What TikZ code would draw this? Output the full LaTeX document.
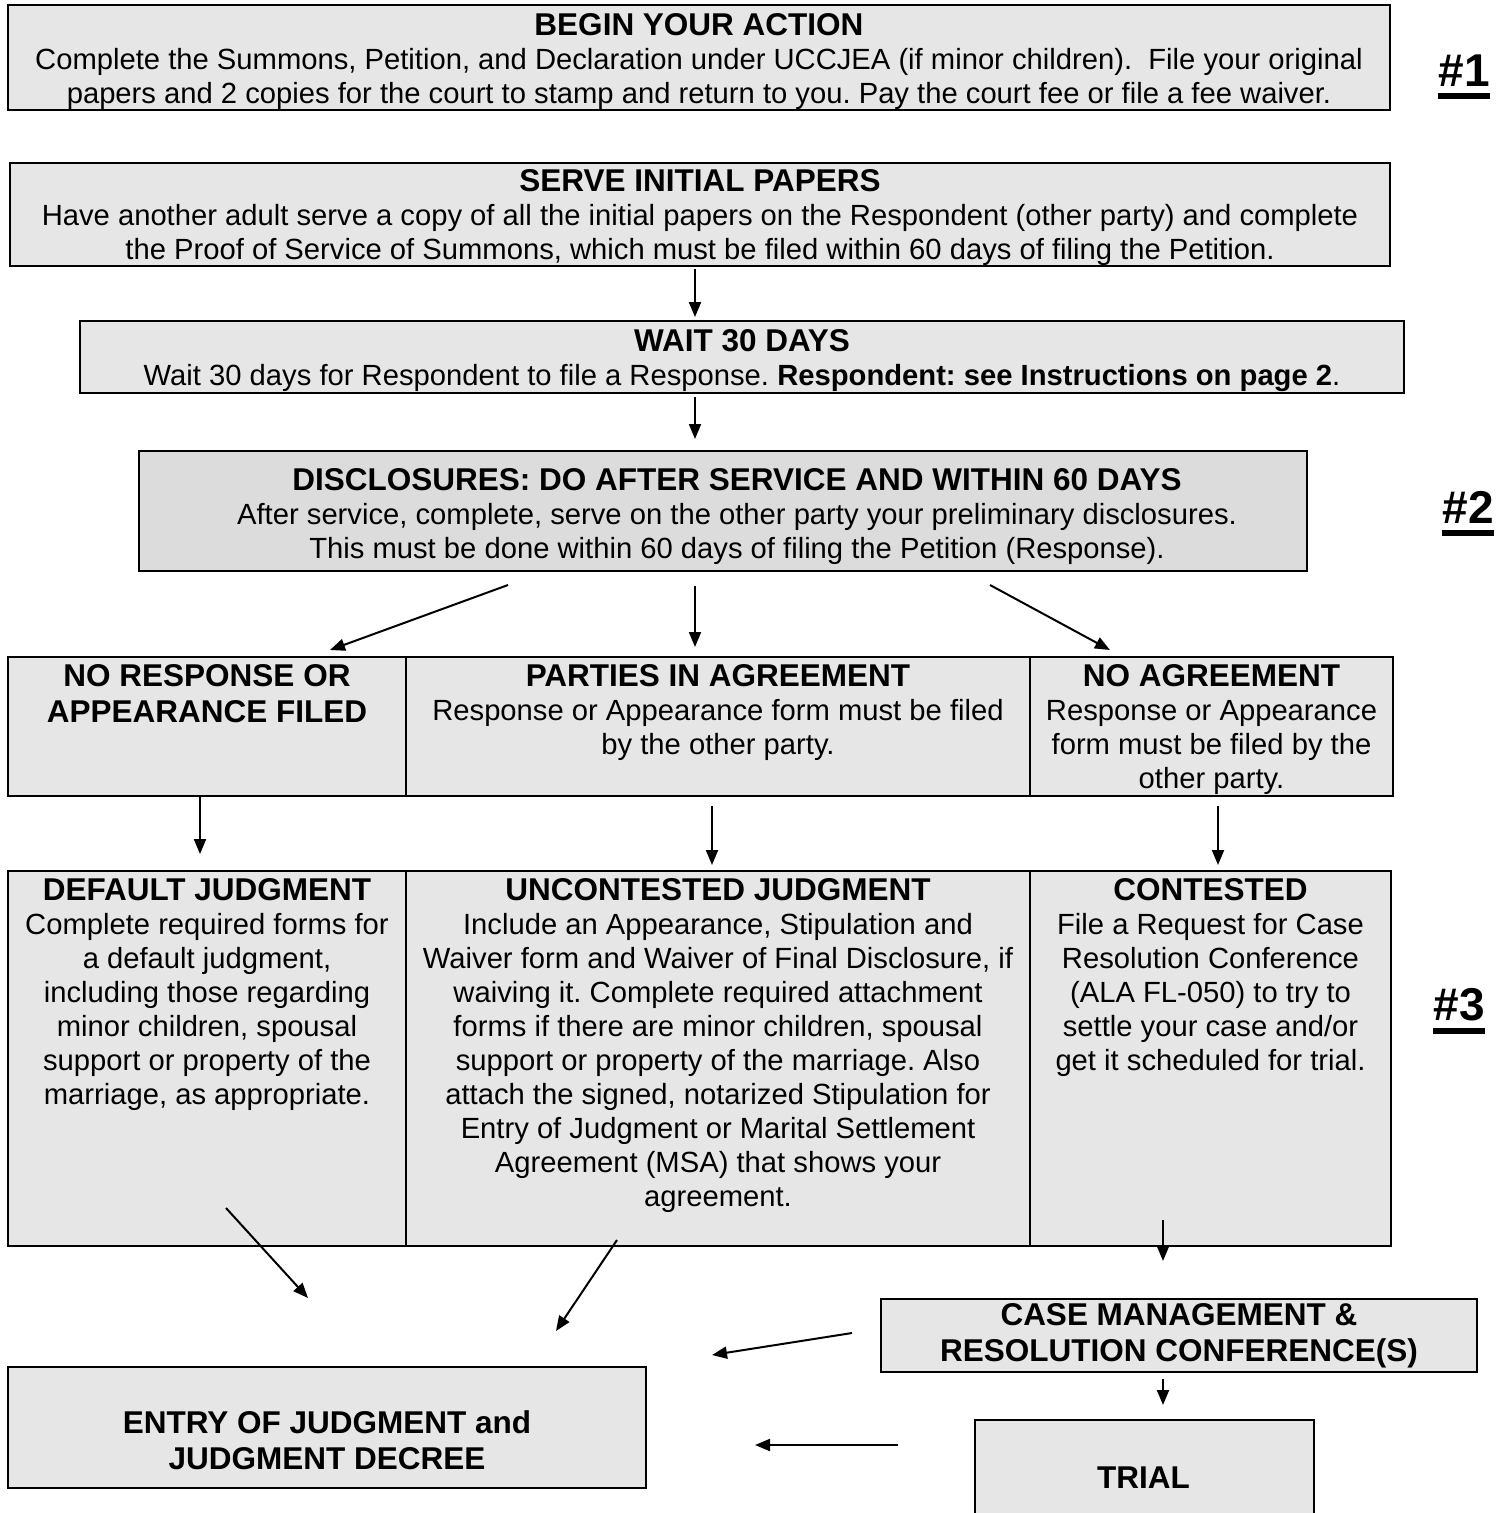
\documentclass[tikz,border=0pt]{standalone}
\usepackage{fontspec}
\setmainfont{Liberation Sans}
\usetikzlibrary{positioning, arrows.meta, calc}
\definecolor{fillGray}{RGB}{230,230,230}
\definecolor{fillDark}{RGB}{220,220,220}
\newcommand{\ttl}[1]{{\fontsize{31.5}{36}\selectfont\bfseries #1}}
\newcommand{\ulnum}[1]{\setbox0=\hbox{\fontsize{46}{50}\selectfont\bfseries #1}\vtop{\copy0\kern7pt\hrule height 6pt width \wd0}}
\frenchspacing

\begin{document}
\begin{tikzpicture}[x=1pt, y=-1pt, >={Triangle[length=15pt, width=12pt]},
    box/.style={draw, line width=2pt, fill=fillGray, inner sep=0pt},
    txt/.style={align=center, inner sep=0pt, font=\fontsize{29.2}{34}\selectfont},
    head/.style={align=center, inner sep=0pt, font=\fontsize{31.5}{36}\selectfont\bfseries},
    arr/.style={->, line width=2pt}]
    \useasboundingbox (0,0) rectangle (1507,1513);

    % top steps
    \node[box, minimum width=1382pt, minimum height=105pt] (begin) at (699,57.5) {};
    \node[txt, below=9pt of begin.north] (beginTxt)
        {\ttl{BEGIN YOUR ACTION}\\Complete the Summons, Petition, and Declaration under UCCJEA (if minor children).~ File your original\\papers and 2 copies for the court to stamp and return to you. Pay the court fee or file a fee waiver.};
    \node[box, minimum width=1380pt, minimum height=103pt] (serve) at (700,214.5) {};
    \node[txt, below=7pt of serve.north] (serveTxt)
        {\ttl{SERVE INITIAL PAPERS}\\Have another adult serve a copy of all the initial papers on the Respondent (other party) and complete\\the Proof of Service of Summons, which must be filed within 60 days of filing the Petition.};
    \node[box, minimum width=1324pt, minimum height=72pt] (wait) at (742,357) {};
    \node[txt, below=9pt of wait.north] (waitTxt)
        {\ttl{WAIT 30 DAYS}\\Wait 30 days for Respondent to file a Response. \textbf{Respondent: see Instructions on page 2}.};
    \node[box, fill=fillDark, minimum width=1168pt, minimum height=120pt] (disc) at (723,511) {};
    \node[txt, below=18pt of disc.north, xshift=14pt] (discTxt)
        {\ttl{DISCLOSURES: DO AFTER SERVICE AND WITHIN 60 DAYS}\\After service, complete, serve on the other party your preliminary disclosures.\\This must be done within 60 days of filing the Petition (Response).};

    % first row
    \node[box, minimum width=398pt, minimum height=139pt] (noResp) at (207,726.5) {};
    \node[box, minimum width=624pt, minimum height=139pt] (agree) at (718,726.5) {};
    \node[box, minimum width=363pt, minimum height=139pt] (noAgree) at (1211.5,726.5) {};
    \node[head, below=8pt of noResp.north] (noRespTxt) {NO RESPONSE OR\\APPEARANCE FILED};
    \node[txt, below=8pt of agree.north] (agreeTxt)
        {\ttl{PARTIES IN AGREEMENT}\\Response or Appearance form must be filed\\by the other party.};
    \node[txt, below=8pt of noAgree.north] (noAgreeTxt)
        {\ttl{NO AGREEMENT}\\Response or Appearance\\form must be filed by the\\other party.};

    % second row
    \node[box, minimum width=398pt, minimum height=375pt] (dflt) at (207,1058.5) {};
    \node[box, minimum width=624pt, minimum height=375pt] (uncont) at (718,1058.5) {};
    \node[box, minimum width=361pt, minimum height=375pt] (contest) at (1210.5,1058.5) {};
    \node[txt, below=8pt of dflt.north] (dfltTxt)
        {\ttl{DEFAULT JUDGMENT}\\Complete required forms for\\a default judgment,\\including those regarding\\minor children, spousal\\support or property of the\\marriage, as appropriate.};
    \node[txt, below=8pt of uncont.north] (uncontTxt)
        {\ttl{UNCONTESTED JUDGMENT}\\Include an Appearance, Stipulation and\\Waiver form and Waiver of Final Disclosure, if\\waiving it. Complete required attachment\\forms if there are minor children, spousal\\support or property of the marriage. Also\\attach the signed, notarized Stipulation for\\Entry of Judgment or Marital Settlement\\Agreement (MSA) that shows your\\agreement.};
    \node[txt, below=8pt of contest.north] (contestTxt)
        {\ttl{CONTESTED}\\File a Request for Case\\Resolution Conference\\(ALA FL-050) to try to\\settle your case and/or\\get it scheduled for trial.};

    % bottom
    \node[box, head, minimum width=596pt, minimum height=73pt] (caseMgmt) at (1179,1335.5)
        {CASE MANAGEMENT \&\\RESOLUTION CONFERENCE(S)};
    \node[box, minimum width=339pt, minimum height=125pt] (trial) at (1144.5,1482.5) {};
    \node[head] (trialTxt) at (1143.5,1478) {TRIAL};
    \node[box, minimum width=638pt, minimum height=121pt] (entry) at (327,1427.5) {};
    \node[head] (entryTxt) at (327,1440) {ENTRY OF JUDGMENT and\\JUDGMENT DECREE};

    % step numbers
    \node[anchor=base, inner sep=0pt] (num1) at (1464,86) {\ulnum{\#1}};
    \node[anchor=base, inner sep=0pt] (num2) at (1468,523) {\ulnum{\#2}};
    \node[anchor=base, inner sep=0pt] (num3) at (1459,1020) {\ulnum{\#3}};

    % arrow columns and free ends
    \coordinate (colA) at (695,0);
    \coordinate (colB) at (200,0);
    \coordinate (colC) at (712,0);
    \coordinate (colD) at (1218,0);
    \coordinate (colE) at (1163,0);
    \coordinate (discL) at (508,585);
    \coordinate (noRespIn) at (330,650);
    \coordinate (discR) at (990,585);
    \coordinate (noAgreeIn) at (1110,650);
    \coordinate (dfltOut) at (226,1208);
    \coordinate (dfltEnd) at (308,1298);
    \coordinate (uncontOut) at (617,1240);
    \coordinate (uncontEnd) at (556,1331);
    \coordinate (contestOut) at (1163,1220);
    \coordinate (caseIn) at (1163,1261);
    \coordinate (caseOut) at (852,1333);
    \coordinate (caseEnd) at (712,1355);
    \coordinate (trialOut) at (898,1445);
    \coordinate (trialEnd) at (755,1445);

    % arrows
    \draw[arr, shorten <=2pt, shorten >=3pt] (serve.south -| colA) -- (wait.north -| colA);
    \draw[arr, shorten <=3pt, shorten >=11pt] (wait.south -| colA) -- (disc.north -| colA);
    \draw[arr] (discL) -- (noRespIn);
    \draw[arr, shorten <=14pt, shorten >=9pt] (disc.south -| colA) -- (agree.north -| colA);
    \draw[arr] (discR) -- (noAgreeIn);
    \draw[arr, shorten >=16pt] (noResp.south -| colB) -- (dflt.north -| colB);
    \draw[arr, shorten <=9pt, shorten >=5pt] (agree.south -| colC) -- (uncont.north -| colC);
    \draw[arr, shorten <=9pt, shorten >=5pt] (noAgree.south -| colD) -- (contest.north -| colD);
    \draw[arr] (dfltOut) -- (dfltEnd);
    \draw[arr] (uncontOut) -- (uncontEnd);
    \draw[arr] (contestOut) -- (caseIn);
    \draw[arr] (caseOut) -- (caseEnd);
    \draw[arr, shorten <=6pt, shorten >=14pt] (caseMgmt.south -| colE) -- (trial.north -| colE);
    \draw[arr] (trialOut) -- (trialEnd);
\end{tikzpicture}
\end{document}
